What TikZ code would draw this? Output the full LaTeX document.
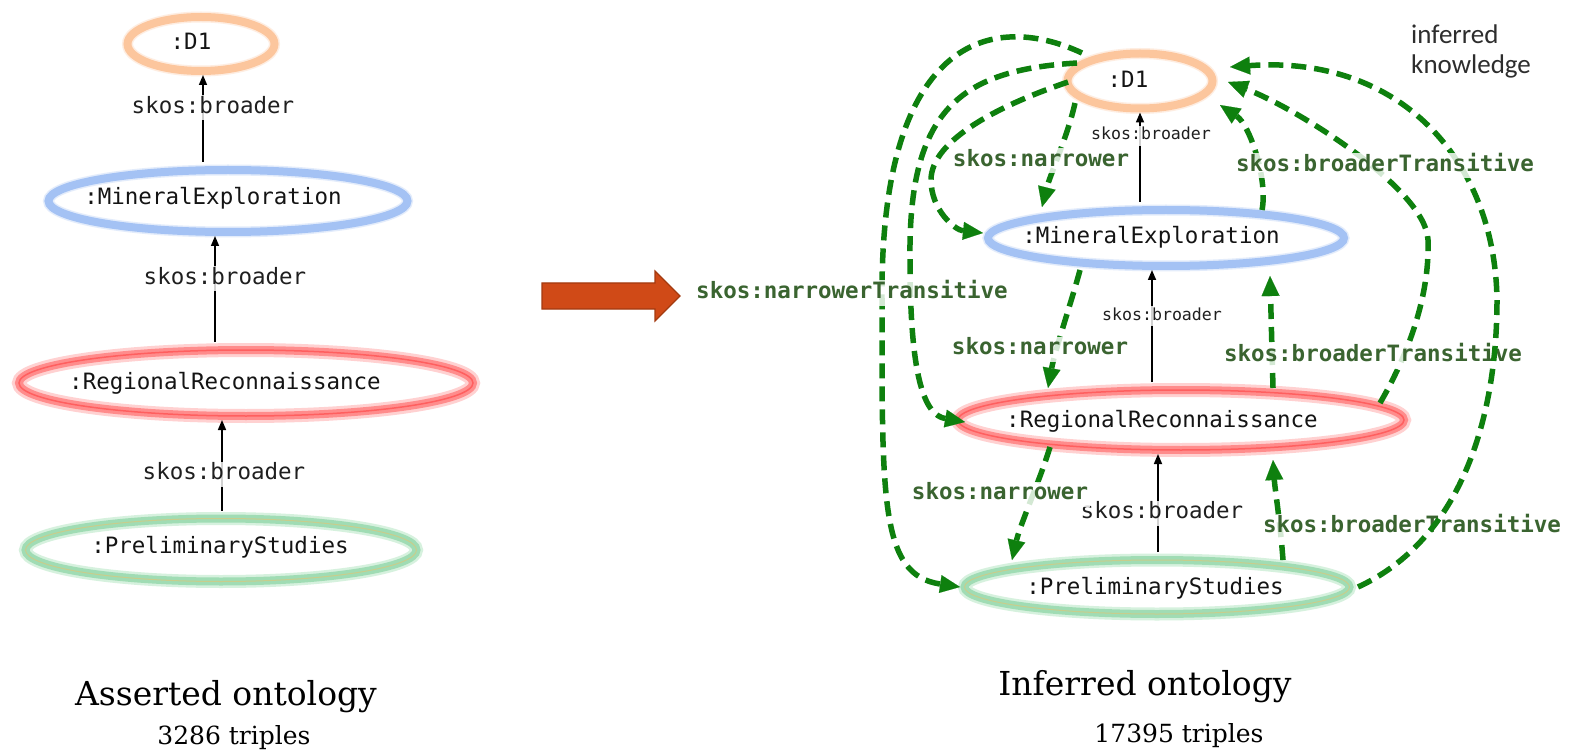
\documentclass[tikz,border=0pt]{standalone}
\usepackage{fontspec}
\usetikzlibrary{shapes.geometric,arrows.meta,calc}
\newfontfamily\monofont{DejaVu Sans Mono}
\newfontfamily\slabfont{DejaVu Serif}
\newfontfamily\notefont{Carlito}

\definecolor{d1col}{RGB}{252,198,157}
\definecolor{mecol}{RGB}{164,194,244}
\definecolor{rrcol}{RGB}{255,140,140}
\definecolor{rrglow}{RGB}{255,190,190}
\definecolor{rrline}{RGB}{255,95,95}
\definecolor{pscol}{RGB}{160,220,180}
\definecolor{psglow}{RGB}{198,236,208}
\definecolor{psline}{RGB}{200,205,140}
\definecolor{infgreen}{RGB}{14,128,14}
\definecolor{lblgreen}{RGB}{58,100,48}
\definecolor{arrowfill}{RGB}{208,74,23}
\definecolor{arrowedge}{RGB}{163,58,16}
\definecolor{notegray}{RGB}{45,45,45}

\tikzset{
  concept/.style={ellipse, inner sep=0pt, line width=8pt},
  conceptD/.style={concept, draw=d1col, preaction={draw=d1col, line width=11pt, opacity=0.3}},
  conceptM/.style={concept, draw=mecol, preaction={draw=mecol, line width=11pt, opacity=0.3}},
  conceptR/.style={concept, draw=rrcol, preaction={draw=rrglow, line width=14pt, opacity=0.7},
                   postaction={draw=rrline, line width=1.5pt}},
  conceptP/.style={concept, draw=pscol, preaction={draw=psglow, line width=13pt, opacity=0.7},
                   postaction={draw=psline, line width=1pt}},
  monotext/.style={font=\monofont\fontsize{22.5}{26}\selectfont, text height=16pt, text depth=5pt},
  conceptname/.style={monotext, text=black!92, inner sep=0pt},
  rel/.style={monotext, text=black!88, fill=white, fill opacity=0.82, text opacity=1, inner sep=2pt},
  relsmall/.style={rel, font=\monofont\fontsize{16.6}{19}\selectfont, text height=12pt, text depth=4pt},
  inferlbl/.style={monotext, font=\monofont\bfseries\fontsize{22.5}{26}\selectfont, text=lblgreen,
                   fill=white, fill opacity=0.82, text opacity=1, inner sep=2pt},
  broader/.style={draw=black, line width=1.6pt, shorten <=4pt, -{Triangle[length=10pt,width=8pt]}},
  infer/.style={draw=infgreen, line width=5.5pt, dash pattern=on 15pt off 8pt,
                -{Triangle[length=20pt,width=18pt,line width=0.1pt]}},
  title/.style={font=\slabfont\fontsize{33}{36}\selectfont, inner sep=0pt, text height=24pt, text depth=0pt},
  count/.style={font=\slabfont\fontsize{25}{28}\selectfont, inner sep=0pt, text height=18pt, text depth=0pt},
}

\begin{document}
\begin{tikzpicture}[x=1pt,y=-1pt]
\fill[white] (0,0) rectangle (1579,751);
\useasboundingbox (0,0) rectangle (1579,751);

% ---------- asserted ontology ----------
\node[conceptD, minimum width=147pt, minimum height=54pt] (D1L) at (201,44) {};
\node[conceptM, minimum width=359pt, minimum height=62pt] (MEL) at (228,201) {};
\node[conceptR, minimum width=454pt, minimum height=66pt] (RRL) at (246,383) {};
\node[conceptP, minimum width=391pt, minimum height=63pt] (PSL) at (221,550) {};

\node[conceptname] (D1Ltxt) at (191,44) {:D1};
\node[conceptname] (MELtxt) at (213,199) {:MineralExploration};
\node[conceptname] (RRLtxt) at (225,384) {:RegionalReconnaissance};
\node[conceptname] (PSLtxt) at (220,548) {:PreliminaryStudies};

\draw[broader] ($(MEL.north)+(-25,0)$) -- ($(D1L.south)+(2,0)$);
\draw[broader] ($(RRL.north)+(-31,0)$) -- ($(MEL.south)+(-13,0)$);
\draw[broader] ($(PSL.north)+(1,0)$) -- ($(RRL.south)+(-24,0)$);

\node[rel] (relL1) at (213,108) {skos:broader};
\node[rel] (relL2) at (225,279) {skos:broader};
\node[rel] (relL3) at (224,474) {skos:broader};

\node[title] (assertedTitle) at (226,693) {Asserted ontology};
\node[count] (assertedCount) at (234,735) {3286 triples};

% ---------- reasoning step ----------
\draw[fill=arrowfill, draw=arrowedge, line width=1.2pt, line join=miter]
  (542,283) -- (655,283) -- (655,271) -- (680,296) -- (655,321) -- (655,309) -- (542,309) -- cycle;

% ---------- inferred ontology ----------
\node[conceptD, minimum width=145pt, minimum height=55pt] (D1R) at (1140,81) {};
\node[conceptM, minimum width=356pt, minimum height=56pt] (MER) at (1166,238) {};
\node[conceptR, minimum width=446pt, minimum height=60pt] (RRR) at (1181,420) {};
\node[conceptP, minimum width=385pt, minimum height=54pt] (PSR) at (1157,587) {};

\node[conceptname] (D1Rtxt) at (1128,82) {:D1};
\node[conceptname] (MERtxt) at (1151,238) {:MineralExploration};
\node[conceptname] (RRRtxt) at (1162,422) {:RegionalReconnaissance};
\node[conceptname] (PSRtxt) at (1155,589) {:PreliminaryStudies};

% asserted links
\draw[broader] ($(MER.north)+(-26,0)$) -- (D1R.south);
\draw[broader] ($(RRR.north)+(-29,0)$) -- ($(MER.south)+(-14,0)$);
\draw[broader] ($(PSR.north)+(1,0)$) -- ($(RRR.south)+(-23,0)$);

% narrower / narrowerTransitive
\draw[infer] ($(D1R)+(-58,-28)$) .. controls (990,10) and (880,40) .. (882,300)
             .. controls (882,500) and (880,575) .. ($(PSR)+(-197,0)$);
\draw[infer] ($(D1R)+(-63,-18)$) .. controls (960,70) and (908,110) .. (910,260)
             .. controls (910,380) and (925,415) .. ($(RRR)+(-216,2)$);
\draw[infer] ($(D1R)+(-72,1)$) .. controls (1000,105) and (931,140) .. (931,180)
             .. controls (931,210) and (955,230) .. ($(MER)+(-183,-5)$);
\draw[infer] ($(D1R)+(-65,22)$) .. controls (1068,135) and (1050,175) .. ($(MER)+(-124,-31)$);
\draw[infer] ($(MER)+(-86,32)$) .. controls (1072,300) and (1055,350) .. ($(RRR)+(-133,-32)$);
\draw[infer] ($(RRR)+(-131,27)$) .. controls (1040,480) and (1020,525) .. ($(PSR)+(-145,-27)$);

% broaderTransitive
\draw[infer] ($(RRR)+(199,-17)$) .. controls (1405,360) and (1430,300) .. (1428,240)
             .. controls (1426,190) and (1300,110) .. ($(D1R)+(88,1)$);
\draw[infer] ($(MER)+(96,-28)$) .. controls (1268,180) and (1250,125) .. ($(D1R)+(80,24)$);
\draw[infer] ($(RRR)+(92,-32)$) -- ($(MER)+(104,38)$);
\draw[infer] ($(PSR)+(126,-27)$) .. controls (1280,520) and (1275,490) .. ($(RRR)+(92,40)$);

% relation labels
\node[relsmall] (relR1) at (1151,136) {skos:broader};
\node[relsmall] (relR2) at (1162,316) {skos:broader};
\node[rel] (relR3) at (1162,513) {skos:broader};

\node[inferlbl] (ntrans) at (852,293) {skos:narrowerTransitive};
\node[inferlbl] (nar1) at (1041,161) {skos:narrower};
\node[inferlbl] (nar2) at (1040,349) {skos:narrower};
\node[inferlbl] (nar3) at (1000,494) {skos:narrower};
\node[inferlbl] (btr2) at (1373,356) {skos:broaderTransitive};
\node[inferlbl] (btr3) at (1412,527) {skos:broaderTransitive};

\draw[infer] ($(PSR)+(201,0)$) .. controls (1460,540) and (1497,420) .. (1497,300)
             .. controls (1495,160) and (1400,55) .. ($(D1R)+(90,-14)$);

\node[inferlbl] (btr1) at (1385,166) {skos:broaderTransitive};

\node[font=\notefont\fontsize{27}{30}\selectfont, text=notegray, align=left, anchor=north west,
      inner sep=0pt] (noteText) at (1411,25) {inferred\\knowledge};

\node[title] (inferredTitle) at (1145,683) {Inferred ontology};
\node[count] (inferredCount) at (1179,733) {17395 triples};
\end{tikzpicture}
\end{document}
